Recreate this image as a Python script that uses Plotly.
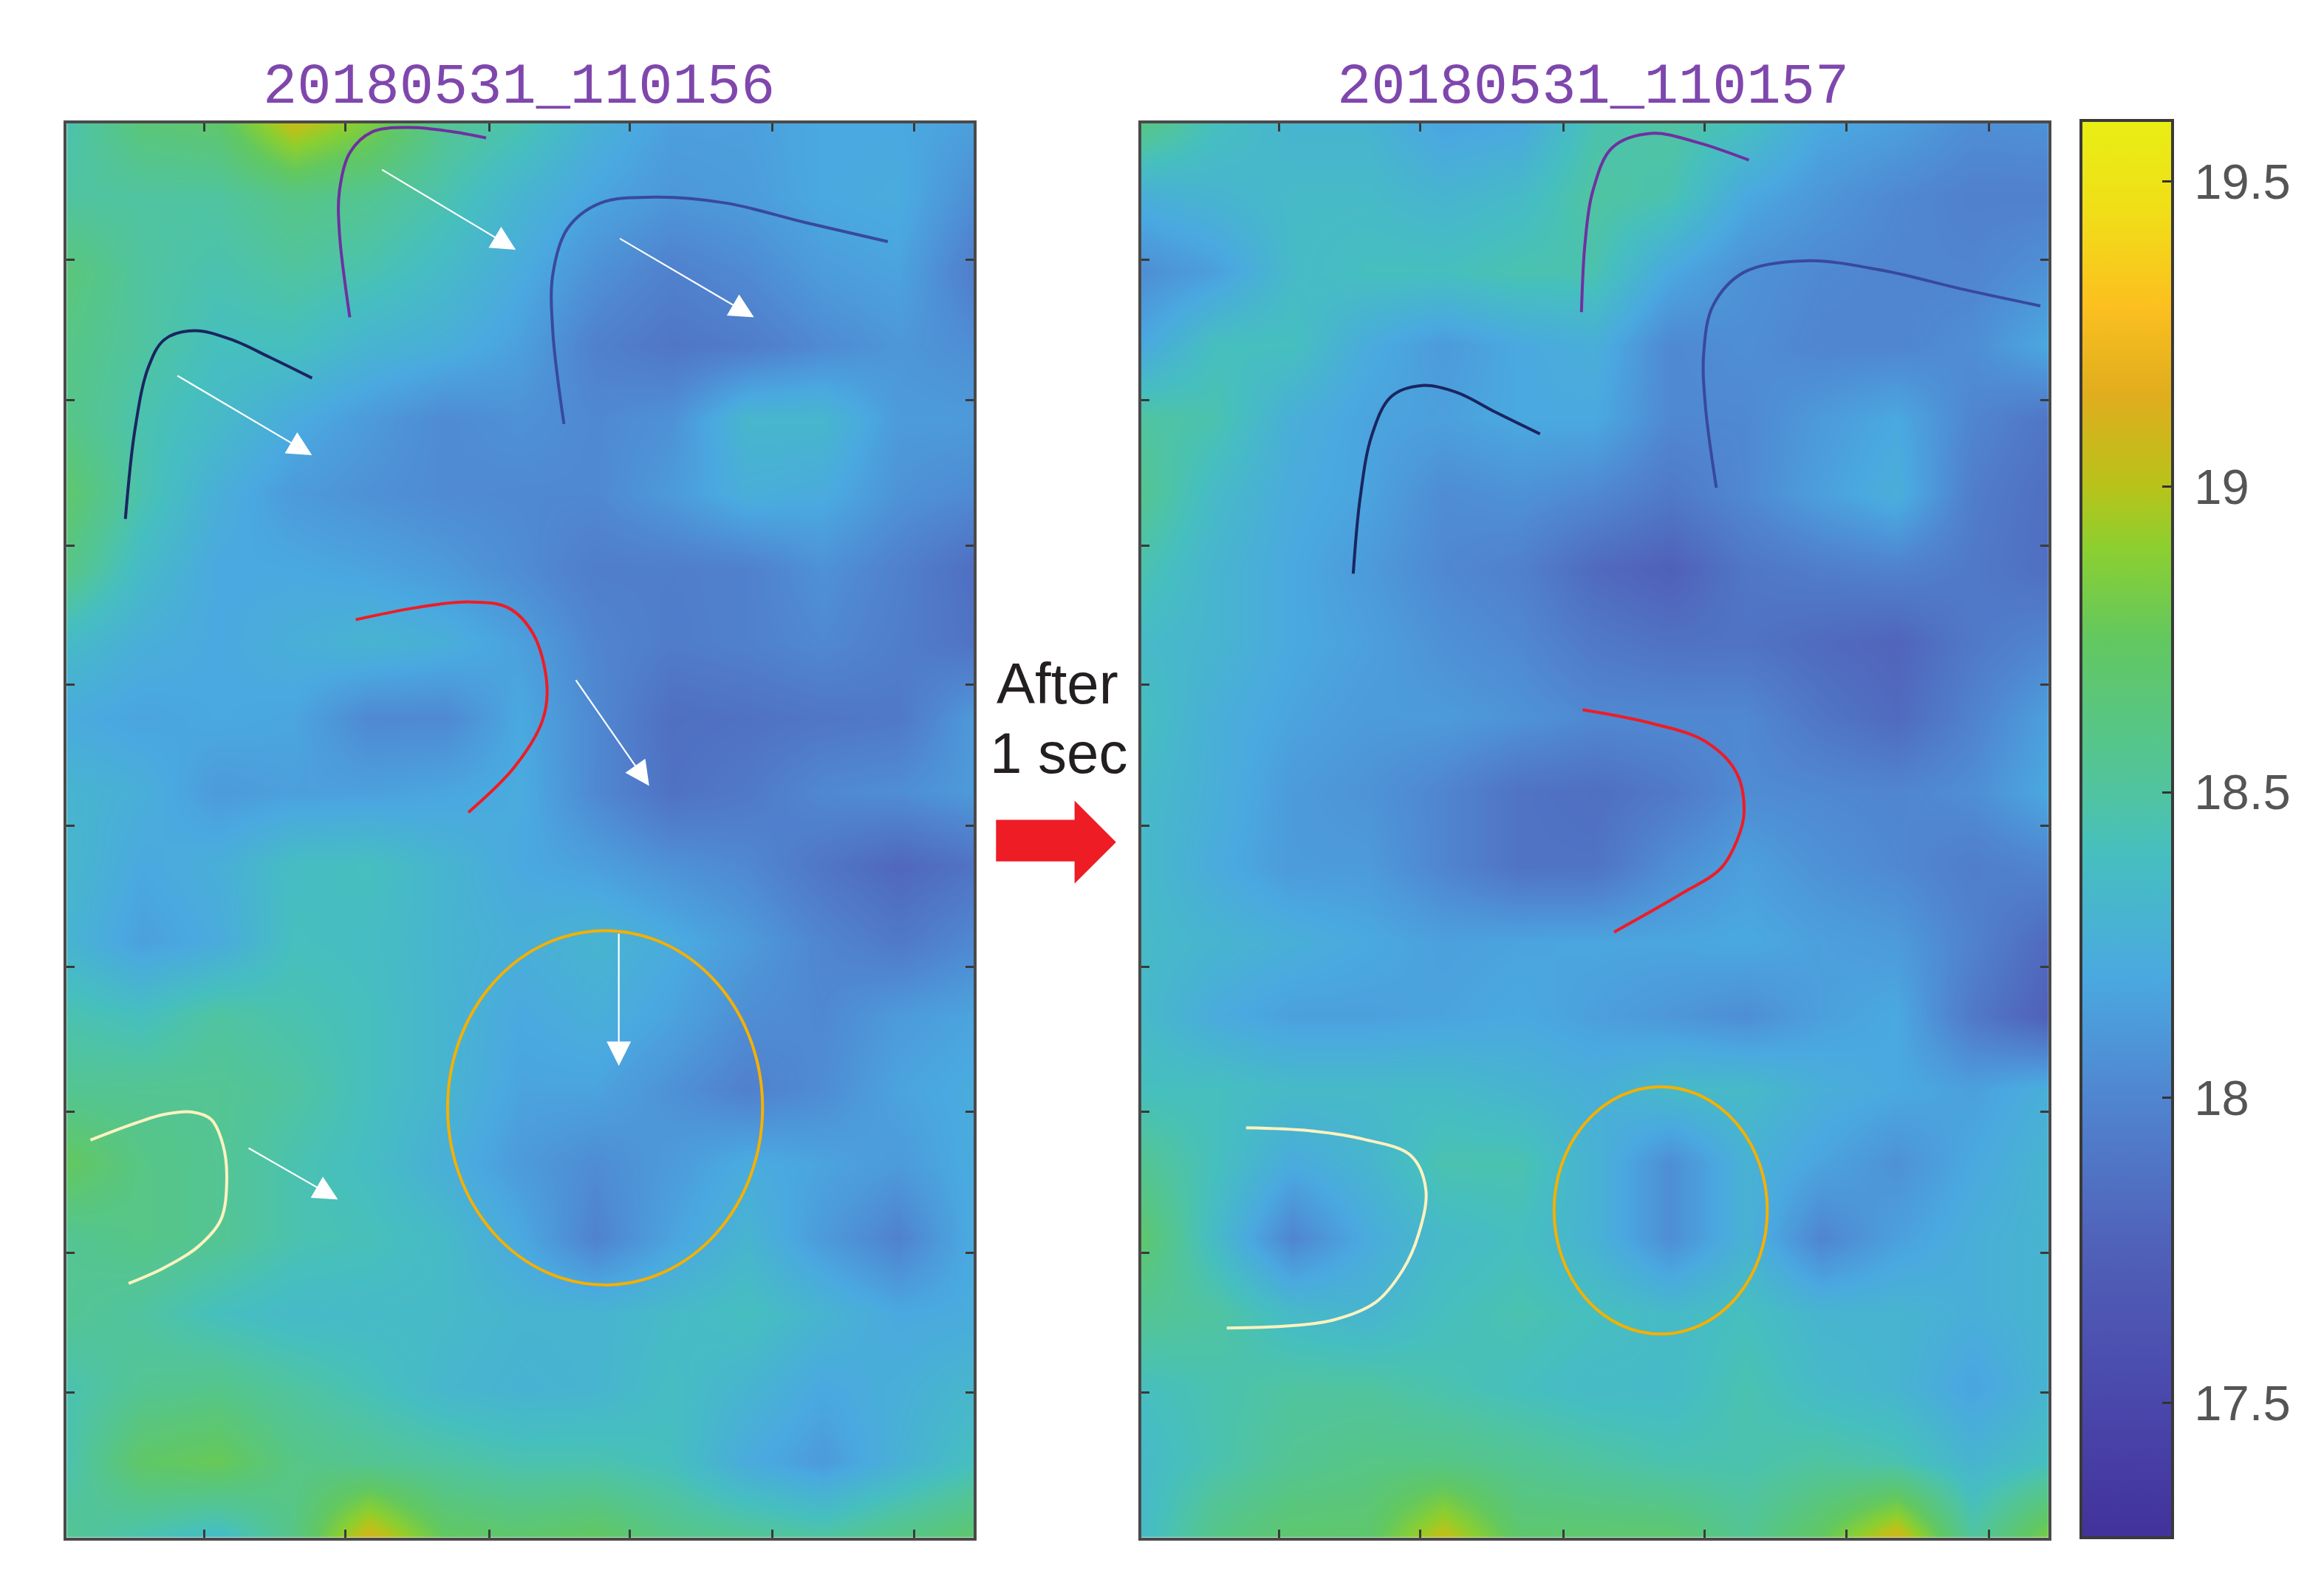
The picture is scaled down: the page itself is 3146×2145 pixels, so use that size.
import plotly.graph_objects as go

W, H = 3146, 2145
SCALE = 2.0064

TITLE_LEFT = "20180531_110156"
TITLE_RIGHT = "20180531_110157"
TITLE_COLOR = "#7f47ad"

COLS = [0, 51, 102, 153, 204, 255, 306, 357, 408, 459, 510, 561, 612]
ROWS = [0, 50, 100, 150, 200, 250, 301, 351, 401, 451, 501, 552, 602, 652, 702, 752, 803, 853, 903, 954]
X_TICKS = [93, 188, 285, 380, 476, 572]
Y_TICKS = [92, 187, 285, 379, 474, 569, 667, 762, 856]

LEFT_FIELD = [
    [18.45,18.65,18.7,19.05,18.85,18.55,18.45,18.27,18.15,18.15,18.2,18.2,18.15],
    [18.5,18.5,18.5,18.6,18.55,18.45,18.3,18.18,18.1,18.13,18.2,18.22,18.05],
    [18.65,18.5,18.45,18.5,18.45,18.35,18.22,18.07,17.97,18.03,18.13,18.17,17.95],
    [18.6,18.5,18.4,18.4,18.3,18.25,18.15,17.97,17.9,17.94,18.03,18.1,18.05],
    [18.6,18.45,18.35,18.22,18.12,18.03,18.07,18.02,18.07,18.32,18.32,18.12,18.12],
    [18.7,18.45,18.25,18.12,18.07,18.03,18.02,18.02,18.12,18.25,18.22,18.08,18.03],
    [18.6,18.35,18.2,18.2,18.17,18.12,18.04,17.95,17.95,17.97,18.07,17.97,17.85],
    [18.35,18.25,18.2,18.25,18.3,18.25,18.15,18.0,17.94,17.97,18.02,17.95,17.88],
    [18.22,18.17,18.2,18.18,18.02,18.02,18.2,18.02,17.85,17.87,17.9,17.92,18.12],
    [18.3,18.25,18.12,18.15,18.15,18.18,18.22,18.02,17.87,17.92,18.02,18.05,18.12],
    [18.32,18.2,18.25,18.38,18.4,18.3,18.2,18.15,18.07,18.02,17.9,17.8,17.88],
    [18.3,18.15,18.22,18.4,18.38,18.3,18.25,18.3,18.22,18.12,18.0,17.92,18.02],
    [18.45,18.4,18.5,18.45,18.4,18.3,18.2,18.25,18.17,18.05,18.02,18.12,18.17],
    [18.55,18.55,18.55,18.5,18.4,18.3,18.17,18.17,18.07,17.97,18.04,18.17,18.22],
    [18.75,18.6,18.55,18.45,18.38,18.25,18.12,18.04,18.12,18.22,18.17,18.12,18.22],
    [18.55,18.6,18.55,18.45,18.42,18.35,18.2,17.98,18.17,18.3,18.12,17.98,18.22],
    [18.55,18.5,18.4,18.35,18.35,18.35,18.3,18.3,18.35,18.4,18.3,18.2,18.22],
    [18.45,18.55,18.58,18.5,18.42,18.32,18.28,18.3,18.38,18.3,18.2,18.25,18.32],
    [18.45,18.72,18.78,18.6,18.55,18.5,18.45,18.45,18.4,18.22,18.12,18.27,18.4],
    [18.55,18.45,18.35,18.6,19.1,18.75,18.7,18.75,18.6,18.55,18.5,18.6,18.7],
]
RIGHT_FIELD = [
    [18.6,18.4,18.3,18.3,18.17,18.2,18.45,18.5,18.4,18.2,18.15,18.05,18.07],
    [18.25,18.3,18.35,18.35,18.3,18.35,18.5,18.45,18.2,18.1,18.02,17.97,17.97],
    [18.05,18.15,18.35,18.4,18.4,18.45,18.45,18.2,18.07,18.02,18.0,18.0,18.07],
    [18.2,18.4,18.4,18.22,18.12,18.2,18.25,18.02,18.05,18.0,18.0,18.05,18.2],
    [18.5,18.45,18.25,18.17,18.15,18.2,18.2,18.02,18.02,18.12,18.2,18.0,17.9],
    [18.55,18.35,18.22,18.17,18.04,18.07,18.02,17.92,18.02,18.15,18.25,17.95,17.85],
    [18.45,18.3,18.2,18.12,18.02,17.97,17.82,17.75,17.9,17.95,17.98,17.92,17.85],
    [18.35,18.3,18.2,18.15,18.07,18.02,17.92,17.87,17.88,17.82,17.78,17.92,18.0],
    [18.4,18.25,18.17,18.12,18.12,18.08,18.02,18.02,18.02,17.9,17.82,17.98,18.15],
    [18.35,18.25,18.12,18.08,18.0,17.88,17.85,17.92,18.04,18.02,18.0,18.05,18.2],
    [18.35,18.22,18.12,18.12,18.0,17.88,17.88,18.05,18.15,18.07,18.02,17.95,18.0],
    [18.35,18.3,18.25,18.2,18.15,18.17,18.18,18.18,18.2,18.15,18.12,17.98,17.82],
    [18.35,18.22,18.15,18.15,18.17,18.2,18.15,18.1,18.05,18.15,18.2,17.92,17.75],
    [18.4,18.4,18.35,18.35,18.35,18.3,18.25,18.35,18.35,18.25,18.2,18.15,18.25],
    [18.55,18.4,18.22,18.3,18.45,18.45,18.28,18.05,18.28,18.17,18.07,18.2,18.3],
    [18.7,18.35,18.0,18.22,18.35,18.4,18.28,18.05,18.28,18.0,18.15,18.25,18.3],
    [18.55,18.5,18.35,18.3,18.4,18.45,18.4,18.35,18.4,18.3,18.3,18.25,18.3],
    [18.4,18.45,18.5,18.5,18.45,18.4,18.35,18.35,18.45,18.35,18.3,18.17,18.3],
    [18.35,18.45,18.55,18.6,18.6,18.55,18.5,18.45,18.45,18.5,18.45,18.3,18.4],
    [18.35,18.6,18.7,18.7,19.05,18.7,18.7,18.7,18.55,18.75,19.1,18.5,18.85],
]

CB_TICKS = [17.5, 18, 18.5, 19, 19.5]
CB_LABELS = ["17.5", "18", "18.5", "19", "19.5"]
Z_MIN, Z_MAX = 17.28, 19.6
CMAP_Z = [17.28, 17.5, 17.75, 18.0, 18.2, 18.4, 18.5, 18.75, 18.9, 19.0, 19.15, 19.3, 19.45, 19.6]
CMAP_C = ["#42329b", "#4a47ab", "#5060b8", "#5085d0", "#4aa9e0", "#46bfbf", "#50c4a0",
          "#62c860", "#8ccf30", "#b8c31a", "#e0ad1e", "#fcc01f", "#f0de18", "#e8ee14"]

# annotation curves, panel coordinates (x, y)
L_NAVY = ([39.6,46,55,66,86,111,137,165.5], [267,207,165,146,140,146,158,172])
L_PURPLE = ([191,184,184,191,206,231,258,283], [131,74,46,20,6,3,5.5,10])
L_BLUE = ([335.5,328,328,338,360,395.6,445,498,554], [203,141,102,71,54,50,54,67,80])
L_RED = ([195,235,271,298,315,324,321,302,271], [335,327,323,327,345,379,403,434.5,465])
L_CREAM = ([16,44,66,84,97.4,105.4,108,104,88.5,66,41.8], [686,675.4,668.6,667,672,689,712.6,739.7,758,772,782.7])
R_NAVY = ([143,147.7,155.5,168.6,189.5,213,239,269], [304,252.7,210.7,184.5,177,181.7,195,209.7])
R_PURPLE = ([297,299.4,304.6,317.7,344,375,410], [127.5,81,46,16.7,7,13,25])
R_BLUE = ([388,380.5,379.5,385.8,406.7,448.6,500.9,553,606.6], [246,189.7,154.8,123,100.6,92.9,99.5,111.8,123.3])
R_RED = ([297.8,344,380.5,401.5,406.7,402.5,391,364.8,319], [395.7,404.8,417,438,465,482.4,502.7,519.6,545.7])
R_CREAM = ([70.7,113.7,150.3,181.7,192,187,176.5,158,129.4,98,57.7], [677.7,679.7,685.5,696.3,719.3,749.8,773.5,795.5,807.4,811.4,812.8])
CURVE_COLORS = {"navy": "#1b2560", "purple": "#7030a0", "blue": "#39499c", "red": "#ee1c25", "cream": "#fff2c0"}

L_ARROWS = [(212,31,303,85.5), (372.5,77.5,463.7,131), (74,170,165.5,224),
            (343,375,393,447), (372.5,546,372.5,636), (122,691,183,726)]
L_ELLIPSE = (257, 544.7, 469.5, 783.7)
R_ELLIPSE = (278.5, 650, 422.4, 816.8)
ELLIPSE_COLOR = "#f5b000"

PANEL_LEFT_PX = (45, 657)
PANEL_RIGHT_PX = (770, 1382)
PANEL_Y_PX = (83, 1037)


def px(x):
    return x * SCALE / W


def py(y):
    return 1 - y * SCALE / H


fig = go.Figure()
fig.add_trace(go.Heatmap(x=COLS, y=ROWS, z=LEFT_FIELD, coloraxis="coloraxis", zsmooth="best",
                         xaxis="x", yaxis="y", hoverinfo="skip"))
fig.add_trace(go.Heatmap(x=COLS, y=ROWS, z=RIGHT_FIELD, coloraxis="coloraxis", zsmooth="best",
                         xaxis="x2", yaxis="y2", hoverinfo="skip"))


def add_curve(curve, color, axis, width):
    fig.add_trace(go.Scatter(x=curve[0], y=curve[1], mode="lines", xaxis=axis, yaxis=axis.replace("x", "y"),
                             line=dict(color=CURVE_COLORS[color], width=width, shape="spline", smoothing=1.0),
                             showlegend=False, hoverinfo="skip"))


for c, name in [(L_NAVY, "navy"), (L_PURPLE, "purple"), (L_BLUE, "blue"), (L_RED, "red"), (L_CREAM, "cream")]:
    add_curve(c, name, "x", 4)
for c, name in [(R_NAVY, "navy"), (R_PURPLE, "purple"), (R_BLUE, "blue"), (R_RED, "red"), (R_CREAM, "cream")]:
    add_curve(c, name, "x2", 4)

axis_style = dict(showgrid=False, zeroline=False, showticklabels=False, ticks="inside", ticklen=11, tickwidth=3,
                  tickcolor="#3a3a3a", showline=True, linecolor="#4a4a4a", linewidth=4, mirror="allticks")
shared_y = dict(domain=[py(PANEL_Y_PX[1]), py(PANEL_Y_PX[0])], range=[954, 0], tickvals=Y_TICKS, **axis_style)
fig.update_layout(
    xaxis=dict(domain=[px(PANEL_LEFT_PX[0]), px(PANEL_LEFT_PX[1])], range=[0, 612], tickvals=X_TICKS, anchor="y", **axis_style),
    yaxis=dict(anchor="x", **shared_y),
    xaxis2=dict(domain=[px(PANEL_RIGHT_PX[0]), px(PANEL_RIGHT_PX[1])], range=[0, 612], tickvals=X_TICKS, anchor="y2", **axis_style),
    yaxis2=dict(anchor="x2", **shared_y),
    coloraxis=dict(
        cmin=Z_MIN, cmax=Z_MAX,
        colorscale=[[(z - Z_MIN) / (Z_MAX - Z_MIN), c] for z, c in zip(CMAP_Z, CMAP_C)],
        colorbar=dict(
            x=px(1404), xanchor="left", xpad=0, y=py(1037), yanchor="bottom", ypad=0,
            lenmode="fraction", len=(1037 - 81) * SCALE / H, thicknessmode="pixels", thickness=124,
            outlinecolor="#3a3a3a", outlinewidth=4, tickvals=CB_TICKS,
            ticktext=["\u2009" + s for s in CB_LABELS],
            ticks="inside", ticklen=16, tickwidth=3, tickcolor="#333333",
            tickfont=dict(family="Liberation Sans", size=67, color="#555555"),
        ),
    ),
    width=W, height=H, margin=dict(l=0, r=0, t=0, b=0), paper_bgcolor="white", plot_bgcolor="white",
    showlegend=False,
)

for xref, yref, arrows in [("x", "y", L_ARROWS)]:
    for x0, y0, x1, y1 in arrows:
        fig.add_annotation(x=x1, y=y1, ax=x0, ay=y0, xref=xref, yref=yref, axref=xref, ayref=yref, text="",
                           showarrow=True, arrowhead=2, arrowsize=3, arrowwidth=2.2, arrowcolor="white")

for (xref, yref, e) in [("x", "y", L_ELLIPSE), ("x2", "y2", R_ELLIPSE)]:
    fig.add_shape(type="circle", xref=xref, yref=yref, x0=e[0], y0=e[1], x1=e[2], y1=e[3],
                  line=dict(color=ELLIPSE_COLOR, width=4))

# red arrow between the panels
pts = [(672, 553), (725, 553), (725, 540), (753, 568), (725, 596), (725, 581), (672, 581)]
path = "M " + " L ".join(f"{px(a):.5f},{py(b):.5f}" for a, b in pts) + " Z"
fig.add_shape(type="path", xref="paper", yref="paper", path=path, fillcolor="#ee1c25", line=dict(width=0))

for text, x, y, font, size, color in [
    (TITLE_LEFT, 350, 59, "Liberation Mono", 77, TITLE_COLOR),
    (TITLE_RIGHT, 1075, 59, "Liberation Mono", 77, TITLE_COLOR),
    ("After", 713.5, 461, "Liberation Sans", 78, "#231f20"),
    ("1 sec", 714, 508, "Liberation Sans", 78, "#231f20"),
]:
    fig.add_annotation(x=px(x), y=py(y), xref="paper", yref="paper", text=text, showarrow=False,
                       xanchor="center", yanchor="middle", font=dict(family=font, size=size, color=color))

fig.write_html("out.html", config={"displayModeBar": False},
               post_script="document.body.style.margin='0';document.documentElement.style.overflow='hidden';")
